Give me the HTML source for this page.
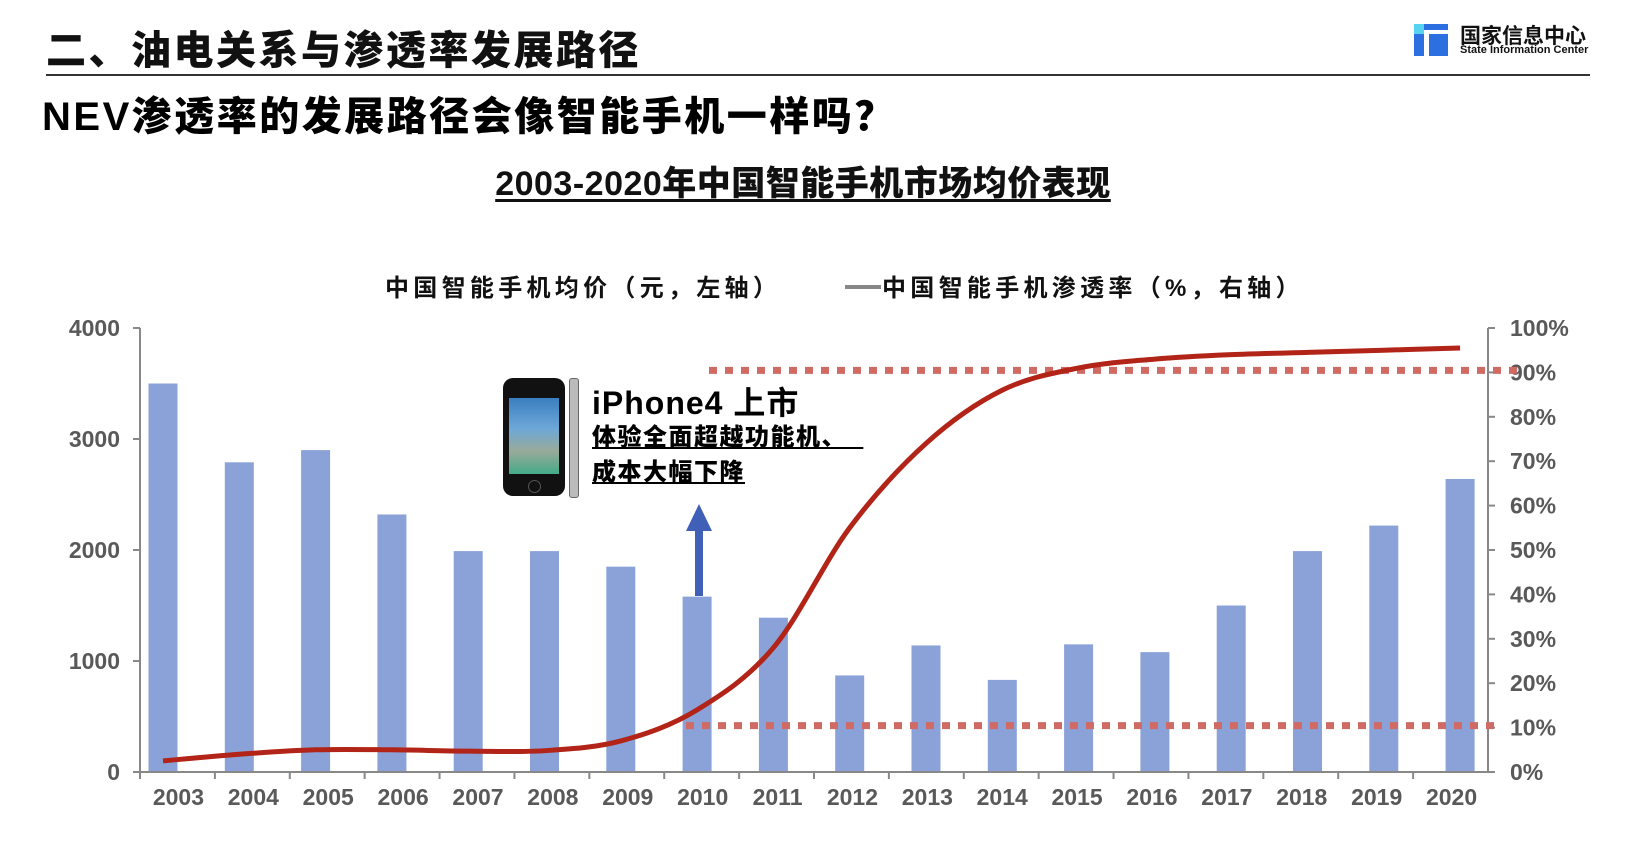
<!DOCTYPE html>
<html><head><meta charset="utf-8">
<style>
body{margin:0;width:1640px;height:851px;background:#fff;overflow:hidden;font-family:"Liberation Sans","Noto Sans CJK SC",sans-serif;}
.abs{position:absolute;white-space:nowrap;}
</style></head>
<body>
<div class="abs" style="left:46px;top:18px;font-size:40px;font-weight:900;color:#111;letter-spacing:2.5px;">二、油电关系与渗透率发展路径</div>
<div class="abs" style="left:46px;top:74px;width:1544px;height:2px;background:#333;"></div>
<div class="abs" style="left:1414px;top:24px;">
  <svg width="34" height="32"><rect x="0" y="0" width="34" height="32" fill="#2c6fe0"/><rect x="0" y="0" width="10" height="10" fill="#56d3f0"/><rect x="10" y="8" width="5" height="24" fill="#fff"/><rect x="10" y="6" width="24" height="4" fill="#fff"/></svg>
</div>
<div class="abs" style="left:1460px;top:20px;font-size:21px;font-weight:bold;color:#111;">国家信息中心</div>
<div class="abs" style="left:1460px;top:44px;font-size:11px;font-weight:bold;color:#111;">State Information Center</div>
<div class="abs" style="left:42px;top:84px;font-size:40px;font-weight:900;color:#000;letter-spacing:2.5px;">NEV渗透率的发展路径会像智能手机一样吗？</div>
<div class="abs" style="left:803px;top:156px;transform:translateX(-50%);font-size:34px;font-weight:900;color:#111;text-decoration:underline;text-underline-offset:4px;letter-spacing:0.5px;">2003-2020年中国智能手机市场均价表现</div>

<svg id="chart" class="abs" style="left:0;top:0" width="1640" height="851"></svg>

<div class="abs" style="left:503px;top:378px;width:62px;height:118px;background:#111;border-radius:10px;">
  <div style="position:absolute;left:6px;top:20px;width:50px;height:76px;background:linear-gradient(#3a7fc0,#6da7d8 40%,#9a9 70%,#4a8);"></div>
  <div style="position:absolute;left:25px;top:102px;width:11px;height:11px;border-radius:50%;border:1px solid #555;"></div>
</div>
<div class="abs" style="left:569px;top:378px;width:8px;height:118px;background:#bbb;border:1px solid #666;border-radius:3px;"></div>
<div class="abs" style="left:592px;top:378px;font-size:32px;font-weight:bold;color:#000;letter-spacing:1px;">iPhone4 上市</div>
<div class="abs" style="left:592px;top:417px;font-size:24px;font-weight:900;color:#000;text-decoration:underline;letter-spacing:1.5px;">体验全面超越功能机、&nbsp;&nbsp;</div>
<div class="abs" style="left:592px;top:452px;font-size:24px;font-weight:900;color:#000;text-decoration:underline;letter-spacing:1.5px;">成本大幅下降</div>

<script>
const years=['2003','2004','2005','2006','2007','2008','2009','2010','2011','2012','2013','2014','2015','2016','2017','2018','2019','2020'];
const avgPrice=[3500,2790,2900,2320,1990,1990,1850,1580,1390,870,1140,830,1150,1080,1500,1990,2220,2640];
const penetration=[2.5,4,5,5,4.7,4.8,7,14,28,55,74,86,91,93,94,94.5,95,95.5];
const leftTicks=[0,1000,2000,3000,4000];
const rightTicks=[0,10,20,30,40,50,60,70,80,90,100];
const refLevels=[90,10];

const NS='http://www.w3.org/2000/svg';
const svg=document.getElementById('chart');
const X0=140,X1=1488,Y0=772,Y1=328;
const cw=(X1-X0)/years.length;
function yL(v){return Y0-(v/4000)*(Y0-Y1);}
function yR(v){return Y0-(v/100)*(Y0-Y1);}
function xBar(i){return 163+i*76.3;}
function xCat(i){return X0+cw*(i+0.5);}
function mk(tag,attrs,parent){const e=document.createElementNS(NS,tag);for(const k in attrs)e.setAttribute(k,attrs[k]);(parent||svg).appendChild(e);return e;}

avgPrice.forEach((v,i)=>{
  const r=mk('rect',{x:xBar(i)-14.5,y:yL(v),width:29,height:Y0-yL(v),fill:'#8aa2d8'});
  
  
});
const ax=mk('path',{d:`M${X0} ${Y1}V${Y0}H${X1}V${Y1}`,stroke:'#888',fill:'none','stroke-width':2});


leftTicks.forEach(t=>{
  mk('line',{x1:X0-7,x2:X0,y1:yL(t),y2:yL(t),stroke:'#888','stroke-width':2});
  const tx=mk('text',{x:120,y:yL(t)+8,'text-anchor':'end','font-size':23,'font-weight':'bold',fill:'#595959'});
  tx.textContent=t;
  
  
});
rightTicks.forEach(t=>{
  mk('line',{x1:X1,x2:X1+7,y1:yR(t),y2:yR(t),stroke:'#888','stroke-width':2});
  const tx=mk('text',{x:1510,y:yR(t)+8,'font-size':23,'font-weight':'bold',fill:'#595959'});
  tx.textContent=t+'%';
  
  
});
years.forEach((y,i)=>{
  mk('line',{x1:X0+cw*i,x2:X0+cw*i,y1:Y0,y2:Y0+7,stroke:'#888','stroke-width':2});
  const tx=mk('text',{x:xCat(i)+1,y:Y0+33,'text-anchor':'middle','font-size':23,'font-weight':'bold',fill:'#595959'});
  tx.textContent=y;
  
  
});
const refX=[[709,1523],[686,1502]];
refLevels.forEach((v,k)=>{
  const l=mk('line',{x1:refX[k][0],x2:refX[k][1],y1:yR(v)-2,y2:yR(v)-2,stroke:'#d06a64','stroke-width':7,'stroke-dasharray':'8 8'});
  
  
});
const pts=penetration.map((v,i)=>[xBar(i),yR(v)]);
let d=`M${pts[0][0]} ${pts[0][1]}`;
for(let i=0;i<pts.length-1;i++){
  const p0=pts[Math.max(i-1,0)],p1=pts[i],p2=pts[i+1],p3=pts[Math.min(i+2,pts.length-1)];
  const c1=[p1[0]+(p2[0]-p0[0])/6,p1[1]+(p2[1]-p0[1])/6];
  const c2=[p2[0]-(p3[0]-p1[0])/6,p2[1]-(p3[1]-p1[1])/6];
  d+=`C${c1[0]} ${c1[1]} ${c2[0]} ${c2[1]} ${p2[0]} ${p2[1]}`;
}
const ln=mk('path',{d:d,stroke:'#b22418',fill:'none','stroke-width':5});


const ar=mk('path',{d:'M695 596V531H686L699 504L712 531H703V596Z',fill:'#4060b8'});


const lg1=mk('text',{x:385,y:296,'font-size':24,'font-weight':'bold',fill:'#111','letter-spacing':4.3});
lg1.textContent='中国智能手机均价（元，左轴）';


const lm=mk('line',{x1:845,x2:881,y1:287,y2:287,stroke:'#888','stroke-width':4});


const lg2=mk('text',{x:882,y:296,'font-size':24,'font-weight':'bold',fill:'#111','letter-spacing':4.3});
lg2.textContent='中国智能手机渗透率（%，右轴）';


</script>
</body></html>
